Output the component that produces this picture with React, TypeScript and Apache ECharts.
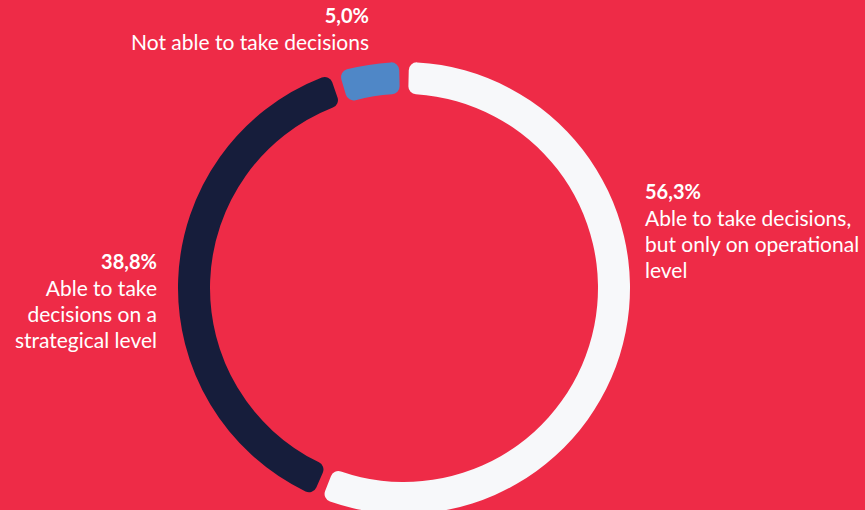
import React, { useEffect, useRef } from "react";
import * as echarts from "echarts";

const categories = [
  "Able to take decisions,\nbut only on operational\nlevel",
  "Able to take\ndecisions on a\nstrategical level",
  "Not able to take decisions",
];
const values = [56.3, 38.8, 5.0];
const percentLabels = ["56,3%", "38,8%", "5,0%"];
const colors = ["#F7F8FA", "#161D3B", "#4F87C7"];

export default function App() {
  const ref = useRef<HTMLDivElement>(null);
  useEffect(() => {
    const chart = echarts.init(ref.current!, null, { renderer: "svg" });
    const richFor = (align: string) => ({
      p: { fontFamily: "Lato", fontWeight: "bold", fontSize: 20, fill: "#FFFFFF", lineHeight: 26, align },
      t: { fontFamily: "Lato", fontSize: 21, fill: "#FFFFFF", lineHeight: 26, align },
    });
    const mk = (i: number) => `{p|${percentLabels[i]}}\n` + categories[i].split("\n").map((l) => `{t|${l}}`).join("\n");
    chart.setOption({
      animation: false,
      backgroundColor: "#EE2B47",
      series: [
        {
          type: "pie",
          center: [404, 288],
          radius: [194, 226],
          startAngle: 90,
          clockwise: true,
          padAngle: 2.5,
          label: { show: false },
          labelLine: { show: false },
          emphasis: { disabled: true },
          itemStyle: { borderRadius: 8 },
          data: values.map((v, i) => ({ value: v, name: categories[i], itemStyle: { color: colors[i] } })),
        },
      ],
      graphic: [
        { type: "text", left: 645, top: 181, style: { text: mk(0), rich: richFor("left"), fill: "#FFFFFF", align: "left" } },
        { type: "text", right: 865 - 157, top: 251, style: { text: mk(1), rich: richFor("right"), fill: "#FFFFFF", align: "right" } },
        { type: "text", right: 865 - 369, top: 5, style: { text: mk(2), rich: richFor("right"), fill: "#FFFFFF", align: "right" } },
      ],
    });
    return () => chart.dispose();
  }, []);
  return <div ref={ref} style={{ width: 865, height: 510, position: "absolute", left: 0, top: 0 }} />;
}
